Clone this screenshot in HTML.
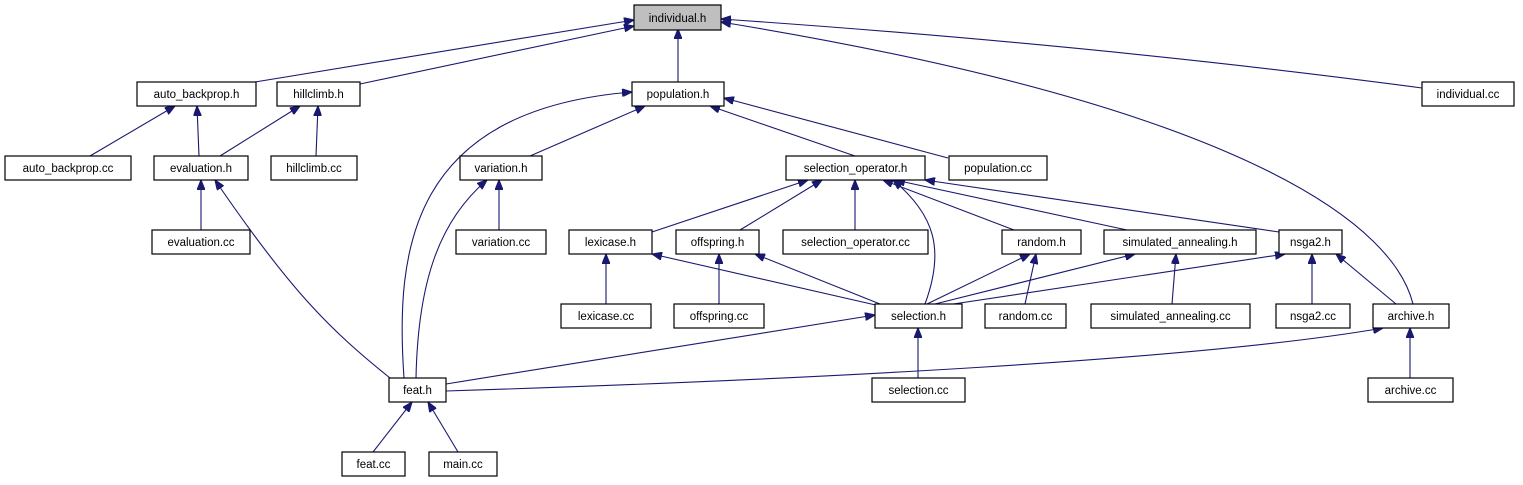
<!DOCTYPE html>
<html><head><meta charset="utf-8"><style>
html,body{margin:0;padding:0;background:#fff;}
svg{display:block;}
text{font-family:"Liberation Sans",sans-serif;font-size:11.5px;fill:#000;text-anchor:middle;}
rect{fill:#fff;stroke:#000;stroke-width:1.2;}
path{fill:none;stroke:#191970;stroke-width:1.1;}
</style></head><body>
<svg width="1523" height="485" viewBox="0 0 1523 485" xmlns="http://www.w3.org/2000/svg">
<defs><marker id="a" viewBox="0 0 10 8" refX="10" refY="4" markerWidth="10" markerHeight="8" markerUnits="userSpaceOnUse" orient="auto"><path d="M0,0L10,4L0,8Z" style="fill:#191970;stroke:#191970"/></marker></defs>
<g marker-end="url(#a)">
<path d="M255,82L634,20"/>
<path d="M360,84L634,26"/>
<path d="M678,82L678,29"/>
<path d="M1422,88Q1100,45 721,19"/>
<path d="M1413,304C1395,230 1260,110 721,22"/>
<path d="M90,156L175,106"/>
<path d="M199,156L197,106"/>
<path d="M220,156L300,106"/>
<path d="M316,156L318,106"/>
<path d="M530,156L645,106"/>
<path d="M855,156L710,106"/>
<path d="M948,158L724,98"/>
<path d="M404,378C395,250 410,110 632,92"/>
<path d="M201,230L201,180"/>
<path d="M390,378C330,330 290,290 215,180"/>
<path d="M499,230L499,180"/>
<path d="M416,378C418,280 440,220 487,180"/>
<path d="M652,232L808,180"/>
<path d="M740,230L822,180"/>
<path d="M855,230L855,180"/>
<path d="M1014,230L883,180"/>
<path d="M1127,230L895,180"/>
<path d="M1279,232L925,180"/>
<path d="M925,304C945,250 935,215 893,180"/>
<path d="M606,304L606,254"/>
<path d="M880,306L652,254"/>
<path d="M719,304L719,254"/>
<path d="M880,304L755,254"/>
<path d="M927,304L1030,254"/>
<path d="M1025,304L1036,254"/>
<path d="M935,304L1135,254"/>
<path d="M1172,304L1176,254"/>
<path d="M940,306L1285,254"/>
<path d="M1312,304L1312,254"/>
<path d="M1396,304L1336,254"/>
<path d="M446,384L875,315"/>
<path d="M918,378L918,328"/>
<path d="M446,391C800,380 1200,360 1383,328"/>
<path d="M1410,378L1410,328"/>
<path d="M373,452L412,402"/>
<path d="M458,452L428,402"/>
</g>
<g>
<rect x="634" y="5" width="87" height="25" style="fill:#bfbfbf"/><text x="677.5" y="22">individual.h</text>
<rect x="137" y="82" width="119" height="24"/><text x="196.5" y="98">auto_backprop.h</text>
<rect x="277" y="82" width="83" height="24"/><text x="318.5" y="98">hillclimb.h</text>
<rect x="632" y="82" width="92" height="24"/><text x="678" y="98">population.h</text>
<rect x="1422" y="82" width="92" height="24"/><text x="1468" y="98">individual.cc</text>
<rect x="5" y="156" width="126" height="24"/><text x="68" y="172">auto_backprop.cc</text>
<rect x="154" y="156" width="94" height="24"/><text x="201" y="172">evaluation.h</text>
<rect x="271" y="156" width="86" height="24"/><text x="314" y="172">hillclimb.cc</text>
<rect x="460" y="156" width="82" height="24"/><text x="501" y="172">variation.h</text>
<rect x="786" y="156" width="139" height="24"/><text x="855.5" y="172">selection_operator.h</text>
<rect x="949" y="156" width="98" height="24"/><text x="998" y="172">population.cc</text>
<rect x="152" y="230" width="98" height="24"/><text x="201" y="246">evaluation.cc</text>
<rect x="456" y="230" width="90" height="24"/><text x="501" y="246">variation.cc</text>
<rect x="569" y="230" width="83" height="24"/><text x="610.5" y="246">lexicase.h</text>
<rect x="676" y="230" width="83" height="24"/><text x="717.5" y="246">offspring.h</text>
<rect x="783" y="230" width="145" height="24"/><text x="855.5" y="246">selection_operator.cc</text>
<rect x="1002" y="230" width="79" height="24"/><text x="1041.5" y="246">random.h</text>
<rect x="1104" y="230" width="152" height="24"/><text x="1180" y="246">simulated_annealing.h</text>
<rect x="1279" y="230" width="63" height="24"/><text x="1310.5" y="246">nsga2.h</text>
<rect x="561" y="304" width="90" height="24"/><text x="606" y="320">lexicase.cc</text>
<rect x="674" y="304" width="90" height="24"/><text x="719" y="320">offspring.cc</text>
<rect x="875" y="304" width="87" height="24"/><text x="918.5" y="320">selection.h</text>
<rect x="985" y="304" width="81" height="24"/><text x="1025.5" y="320">random.cc</text>
<rect x="1091" y="304" width="159" height="24"/><text x="1170.5" y="320">simulated_annealing.cc</text>
<rect x="1276" y="304" width="74" height="24"/><text x="1313" y="320">nsga2.cc</text>
<rect x="1373" y="304" width="76" height="24"/><text x="1411" y="320">archive.h</text>
<rect x="389" y="378" width="57" height="24"/><text x="417.5" y="394">feat.h</text>
<rect x="872" y="378" width="93" height="24"/><text x="918.5" y="394">selection.cc</text>
<rect x="1368" y="378" width="85" height="24"/><text x="1410.5" y="394">archive.cc</text>
<rect x="342" y="452" width="63" height="24"/><text x="373.5" y="468">feat.cc</text>
<rect x="429" y="452" width="68" height="24"/><text x="463" y="468">main.cc</text>
</g>
</svg>
</body></html>
